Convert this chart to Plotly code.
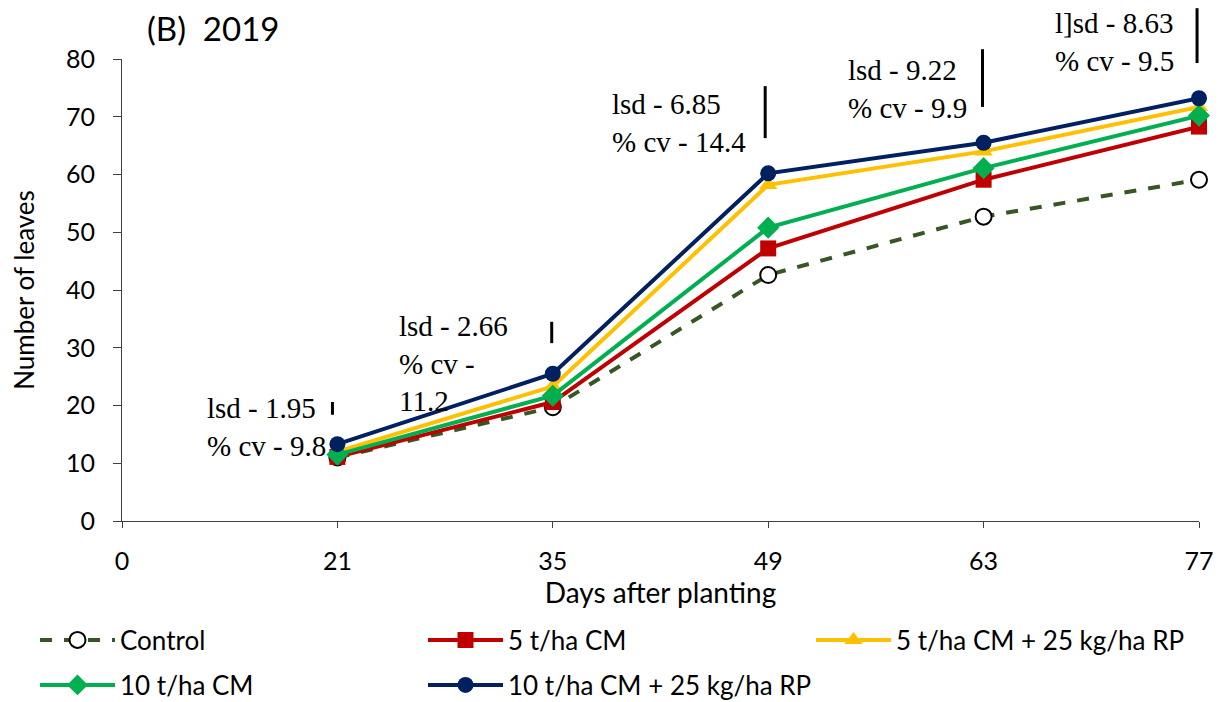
import plotly.graph_objects as go

days = ["0", "21", "35", "49", "63", "77"]
series_names = ["Control", "5 t/ha CM", "5 t/ha CM + 25 kg/ha RP", "10 t/ha CM", "10 t/ha CM + 25 kg/ha RP"]
control = [11.0, 19.7, 42.6, 52.7, 59.1]
cm5 = [11.1, 20.6, 47.2, 59.1, 68.3]
cm5_rp = [12.0, 23.3, 58.2, 64.0, 71.7]
cm10 = [11.5, 21.7, 50.8, 61.1, 70.2]
cm10_rp = [13.3, 25.5, 60.2, 65.5, 73.2]

lsd_labels = ["lsd - 1.95<br>% cv - 9.8", "lsd - 2.66<br>% cv -<br>11.2", "lsd - 6.85<br>% cv - 14.4",
              "lsd - 9.22<br>% cv - 9.9", "l]sd - 8.63<br>% cv - 9.5"]
lsd_bottom = [18.4, 30.8, 66.3, 71.7, 79.3]
lsd_top = [20.6, 34.5, 75.3, 81.7, 88.8]

YMAX = 80
xpos = list(range(1, len(days)))

colors = ["#375623", "#C00000", "#FFC000", "#00B050", "#002060"]
symbols = ["circle", "square", "triangle-up", "diamond", "circle"]
legend_ids = ["legend", "legend", "legend", "legend2", "legend2"]
data = [control, cm5, cm5_rp, cm10, cm10_rp]

fig = go.Figure()
for name, vals, col, sym, lg in zip(series_names, data, colors, symbols, legend_ids):
    is_ctrl = name == "Control"
    fig.add_trace(go.Scatter(
        x=xpos, y=vals, name=name, mode="lines+markers", legend=lg,
        line=dict(color=col, width=4, dash="dash" if is_ctrl else "solid"),
        marker=dict(symbol=sym, size=16 if sym != "diamond" else 17,
                    color="white" if is_ctrl else col,
                    line=dict(color="black" if is_ctrl else col, width=2 if is_ctrl else 0)),
        cliponaxis=False,
    ))

# lsd bars (paper coords derived from data values so they may extend above the plot)
offsets = [-0.023, -0.005, -0.014, -0.005, -0.009]
for i, (b, t) in enumerate(zip(lsd_bottom, lsd_top)):
    fig.add_shape(type="line", xref="x", yref="paper",
                  x0=xpos[i] + offsets[i], x1=xpos[i] + offsets[i],
                  y0=b / YMAX, y1=t / YMAX, line=dict(color="black", width=3))

label_x = [0.385, 1.277, 2.266, 3.361, 4.322]
label_top = [22.7, 36.9, 75.3, 81.2, 89.4]
for txt, lx, ly in zip(lsd_labels, label_x, label_top):
    fig.add_annotation(x=lx, y=ly / YMAX, xref="x", yref="paper", text=txt, showarrow=False,
                       xanchor="left", yanchor="top", align="left",
                       font=dict(family="Liberation Serif", size=29, color="black"))

L, T, PW, PH = 114, 51, 1077, 462
fig.add_annotation(x=(145 - 8 - L) / PW, y=(T + PH - (28 - 8)) / PH, xref="paper", yref="paper",
                   text="(B)  2019", showarrow=False, xanchor="left", yanchor="middle",
                   font=dict(family="Lato", size=33, color="black"))

fig.update_layout(
    width=1230, height=702,
    margin=dict(l=L, r=1230 - L - PW, t=T, b=702 - T - PH, autoexpand=False),
    plot_bgcolor="white", paper_bgcolor="white",
    font=dict(family="Lato", color="black"),
    xaxis=dict(range=[0, 5], tickmode="array", tickvals=list(range(len(days))), ticktext=days,
               showgrid=False, zeroline=False, showline=True, linecolor="#404040", linewidth=1,
               ticks="outside", ticklen=6, tickcolor="#404040", tickfont=dict(size=25),
               ticklabelstandoff=12,
               title=dict(text="Days after planting", font=dict(size=28), standoff=6)),
    yaxis=dict(range=[0, YMAX], dtick=10, showgrid=False, zeroline=False, showline=True,
               linecolor="#404040", linewidth=1, ticks="outside", ticklen=8, tickcolor="#404040",
               tickfont=dict(size=25), ticklabelstandoff=13,
               title=dict(text="Number of leaves", font=dict(size=26), standoff=30)),
    legend=dict(orientation="h", x=(27 - L) / PW, y=(T + PH - 632) / PH, xanchor="left", yanchor="middle",
                entrywidth=298, entrywidthmode="pixels", font=dict(size=26), tracegroupgap=0,
                itemwidth=75),
    legend2=dict(orientation="h", x=(27 - L) / PW, y=(T + PH - 677) / PH, xanchor="left", yanchor="middle",
                 entrywidth=298, entrywidthmode="pixels", font=dict(size=26), tracegroupgap=0,
                 itemwidth=75),
    showlegend=True,
)

fig.write_html("out.html")
